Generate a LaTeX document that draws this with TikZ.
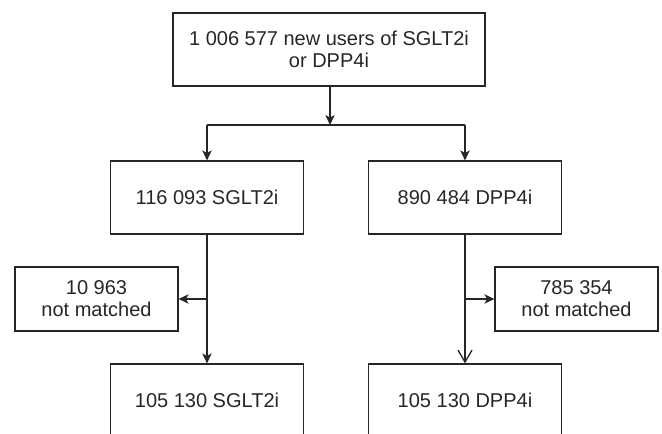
\documentclass[tikz,border=0pt]{standalone}
\usepackage{fontspec}
\setmainfont{Liberation Sans}
\usetikzlibrary{arrows.meta}
\begin{document}
\begin{tikzpicture}[x=0.75pt,y=-0.75pt,
  box/.style={draw=black!85, line width=0.85pt, inner sep=0pt, align=center,
    font=\fontsize{15}{16.5}\selectfont, text=black!85},
  wide/.style={box, minimum width=234pt, minimum height=54.75pt},
  group/.style={box, minimum width=145pt, minimum height=54.75pt},
  aside/.style={box, minimum width=122.25pt, minimum height=48pt},
  link/.style={draw=black!85, line width=1.15pt},
  arr/.style={link, -{Stealth[length=7.5pt, width=7pt, inset=2pt]}},
  openarr/.style={link, -{Straight Barb[length=9pt, width=10.5pt, line width=1pt]}}]
\useasboundingbox (0,0) rectangle (662,433);
\clip (0,0) rectangle (662,433);

% Cohort and first split
\node[wide] (all) at (329,49.5) {1 006 577 new users of SGLT2i\\or DPP4i};
\coordinate (split) at (330,125);
\node[group] (sg) at (207,197.5) {116 093 SGLT2i};
\node[group] (dp) at (465,197.5) {890 484 DPP4i};

% Unmatched patients
\node[aside] (sgx) at (96.5,299) {10 963\\not matched};
\node[aside] (dpx) at (576.5,299) {785 354\\not matched};

% Matched cohorts (boxes run past the lower edge)
\node[group] (sgm) at (207,400.5) {105 130 SGLT2i};
\node[group] (dpm) at (465,400.5) {105 130 DPP4i};

\draw[arr] (all.south -| split) -- (split);
\draw[link] (sg.north |- split) -- (dp.north |- split);
\draw[arr] (sg.north |- split) -- (sg.north);
\draw[arr] (dp.north |- split) -- (dp.north);

\draw[arr] (sg.south) -- (sgm.north);
\draw[arr] (sg.south |- sgx.east) -- (sgx.east);
\draw[openarr] (dp.south) -- (dpm.north);
\draw[arr] (dp.south |- dpx.west) -- (dpx.west);
\end{tikzpicture}
\end{document}
